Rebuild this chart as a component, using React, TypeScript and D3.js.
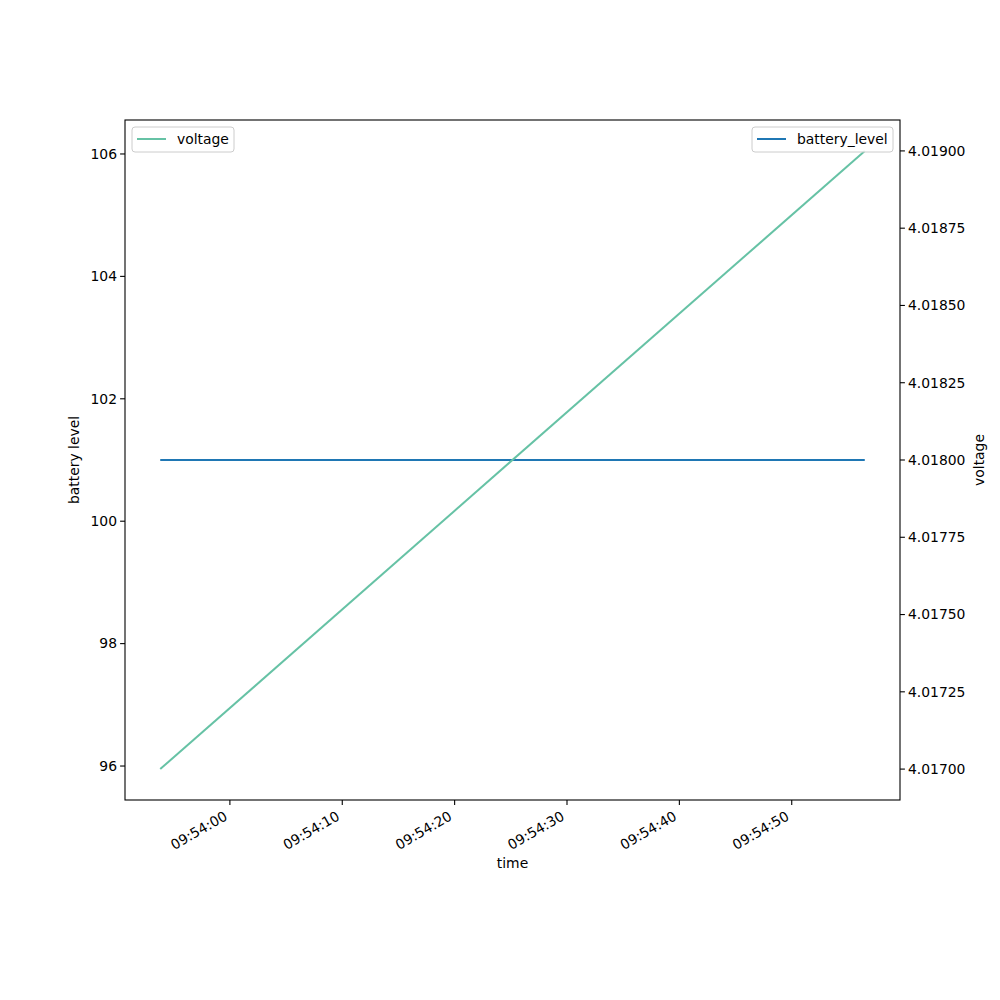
import React from "react";
import * as d3 from "d3";

const times = ["2024-01-01T09:53:53.8", "2024-01-01T09:54:56.5"];
const voltage = [4.017, 4.019];
const batteryLevel = [101, 101];
const leftTicks = [96, 98, 100, 102, 104, 106];
const rightTicks = [4.017, 4.01725, 4.0175, 4.01775, 4.018, 4.01825, 4.0185, 4.01875, 4.019];
const xTickTimes = ["09:54:00", "09:54:10", "09:54:20", "09:54:30", "09:54:40", "09:54:50"];

const W = 1000, H = 1000;
const L = 125, R = 900, T = 120, B = 800;
const FONT = "DejaVu Sans, sans-serif";
const FS = 13.9;

export default function App() {
  const dates = times.map((t) => new Date(t));
  const t0 = dates[0].getTime(), t1 = dates[dates.length - 1].getTime();
  const xm = (t1 - t0) * 0.05;
  const x = d3.scaleTime().domain([new Date(t0 - xm), new Date(t1 + xm)]).range([L, R]);

  // constant battery -> matplotlib expands
  const bmin = d3.min(batteryLevel)!, bmax = d3.max(batteryLevel)!;
  let lo = bmin, hi = bmax;
  if (lo === hi) { lo = lo - 0.05 * Math.abs(lo); hi = hi + 0.05 * Math.abs(hi); }
  const bm = (hi - lo) * 0.05;
  const yL = d3.scaleLinear().domain([lo - bm, hi + bm]).range([B, T]);

  const vmin = d3.min(voltage)!, vmax = d3.max(voltage)!;
  const vm = (vmax - vmin) * 0.05;
  const yR = d3.scaleLinear().domain([vmin - vm, vmax + vm]).range([B, T]);

  const lineV = d3.line<number>().x((_, i) => x(dates[i])).y((d) => yR(d));
  const lineB = d3.line<number>().x((_, i) => x(dates[i])).y((d) => yL(d));

  const xTicks = xTickTimes.map((s) => new Date("2024-01-01T" + s));

  return (
    <svg width={W} height={H} style={{ display: "block", position: "absolute", left: 0, top: 0 }} fontFamily={FONT}>
      <rect width={W} height={H} fill="#fff" />
      <path d={lineB(batteryLevel)!} fill="none" stroke="#1f77b4" strokeWidth={2} />
      <path d={lineV(voltage)!} fill="none" stroke="#66c2a5" strokeWidth={2} />
      <rect x={L} y={T} width={R - L} height={B - T} fill="none" stroke="#000" strokeWidth={1.1} />
      {leftTicks.map((v) => (
        <g key={"l" + v}>
          <line x1={L - 4.9} x2={L} y1={yL(v)} y2={yL(v)} stroke="#000" strokeWidth={1.1} />
          <text x={L - 8} y={yL(v)} dy="0.35em" textAnchor="end" fontSize={FS}>{v}</text>
        </g>
      ))}
      {rightTicks.map((v) => (
        <g key={"r" + v}>
          <line x1={R} x2={R + 4.9} y1={yR(v)} y2={yR(v)} stroke="#000" strokeWidth={1.1} />
          <text x={R + 8} y={yR(v)} dy="0.35em" textAnchor="start" fontSize={FS}>{v.toFixed(5)}</text>
        </g>
      ))}
      {xTicks.map((d, i) => (
        <g key={"x" + i}>
          <line x1={x(d)} x2={x(d)} y1={B} y2={B + 4.9} stroke="#000" strokeWidth={1.1} />
          <text transform={`translate(${x(d) - 1.6},${B + 19})  rotate(-30)`} textAnchor="end" fontSize={FS}>{xTickTimes[i]}</text>
        </g>
      ))}
      <text x={(L + R) / 2} y={868} textAnchor="middle" fontSize={FS}>time</text>
      <text transform={`translate(79,${(T + B) / 2}) rotate(-90)`} textAnchor="middle" fontSize={FS}>battery level</text>
      <text transform={`translate(984,${(T + B) / 2}) rotate(-90)`} textAnchor="middle" fontSize={FS}>voltage</text>

      <g>
        <rect x={132} y={127} width={102} height={25} rx={3} fill="#fff" fillOpacity={0.8} stroke="#ccc" strokeWidth={1} />
        <line x1={137} x2={166} y1={139} y2={139} stroke="#66c2a5" strokeWidth={2} />
        <text x={177} y={139} dy="0.35em" fontSize={FS}>voltage</text>
      </g>
      <g>
        <rect x={752} y={127} width={141} height={25} rx={3} fill="#fff" fillOpacity={0.8} stroke="#ccc" strokeWidth={1} />
        <line x1={757} x2={786} y1={139} y2={139} stroke="#1f77b4" strokeWidth={2} />
        <text x={797} y={139} dy="0.35em" fontSize={FS}>battery_level</text>
      </g>
    </svg>
  );
}
